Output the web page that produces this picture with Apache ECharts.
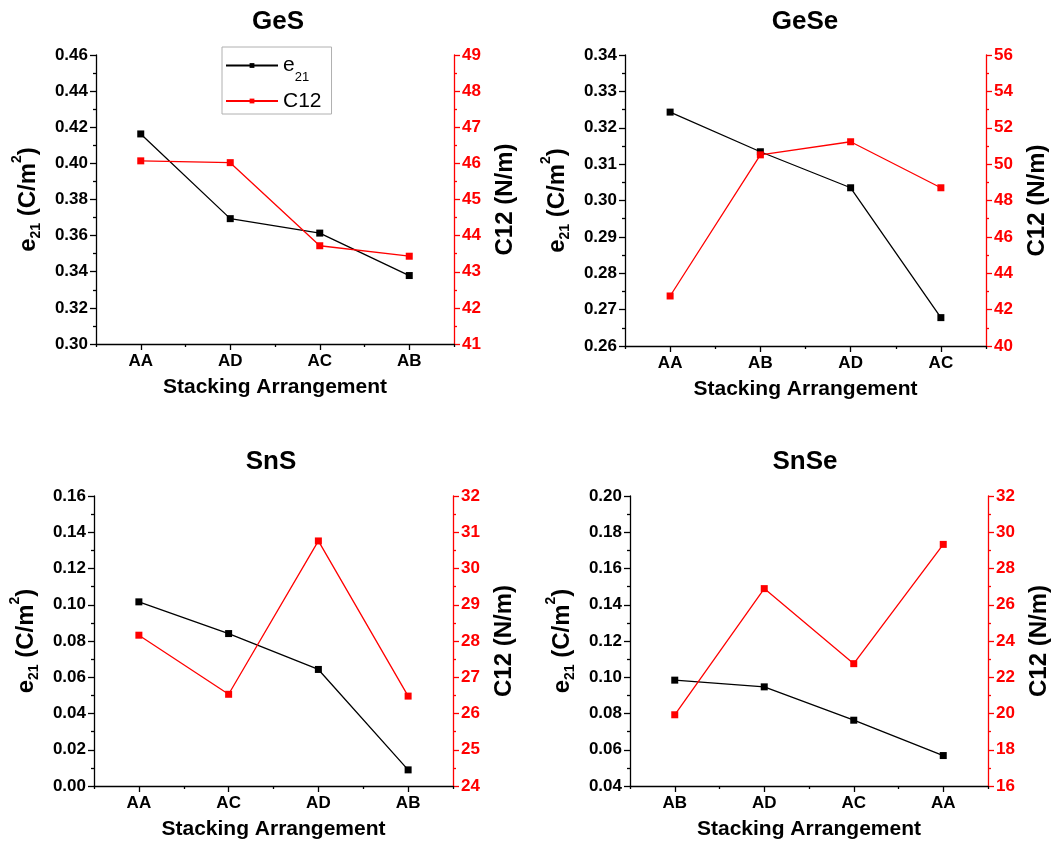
<!DOCTYPE html>
<html>
<head>
<meta charset="utf-8">
<title>e21 and C12 vs stacking arrangement</title>
<script src="https://cdn.jsdelivr.net/npm/echarts@6/dist/echarts.min.js"></script>
<style>
  html, body { margin: 0; padding: 0; background: #ffffff; }
  #chart { width: 1056px; height: 845px; }
</style>
</head>
<body>
<div id="chart"></div>
<script>
// ---- data ----
const panelTitles = ['GeS', 'GeSe', 'SnS', 'SnSe'];

const gesCats = ['AA', 'AD', 'AC', 'AB'];
const gesE21 = [0.4163, 0.3694, 0.3614, 0.3379];
const gesC12 = [46.07, 46.02, 43.72, 43.43];

const geseCats = ['AA', 'AB', 'AD', 'AC'];
const geseE21 = [0.3243, 0.3134, 0.3035, 0.2678];
const geseC12 = [42.75, 50.51, 51.23, 48.70];

const snsCats = ['AA', 'AC', 'AD', 'AB'];
const snsE21 = [0.1016, 0.0841, 0.0643, 0.0089];
const snsC12 = [28.16, 26.53, 30.76, 26.48];

const snseCats = ['AB', 'AD', 'AC', 'AA'];
const snseE21 = [0.0984, 0.0947, 0.0763, 0.0568];
const snseC12 = [19.93, 26.89, 22.75, 29.33];

// [min, max, interval] for the left (e21) and right (C12) axes
const e21Ranges = [[0.30, 0.46, 0.02], [0.26, 0.34, 0.01], [0.00, 0.16, 0.02], [0.04, 0.20, 0.02]];
const c12Ranges = [[41, 49, 1], [40, 56, 2], [24, 32, 1], [16, 32, 2]];

const xAxisTitle = 'Stacking Arrangement';
const e21AxisTitle = '{m|e}{s|21}{m| (C/m}{p|2}{m|)}';
const c12AxisTitle = 'C12 (N/m)';
const seriesNames = ['e21', 'C12'];

const categories = [gesCats, geseCats, snsCats, snseCats];
const e21Values = [gesE21, geseE21, snsE21, snseE21];
const c12Values = [gesC12, geseC12, snsC12, snseC12];

// ---- layout ----
const FONT = '"Liberation Sans", Arial, sans-serif';
const BLACK = '#000000';
const RED = '#ff0000';

const panels = [
  { left: 96,  top: 55,  width: 358, height: 289, tx: 278, ty: 22 },
  { left: 625, top: 55,  width: 361, height: 291, tx: 805, ty: 22 },
  { left: 94,  top: 496, width: 359, height: 290, tx: 271, ty: 462 },
  { left: 630, top: 496, width: 358, height: 290, tx: 805, ty: 462 }
];

const boldText = (size, color) => ({
  fontFamily: FONT, fontWeight: 'bold', fontSize: size, color: color
});

const option = {
  backgroundColor: '#ffffff',
  animation: false,
  title: [],
  grid: [],
  xAxis: [],
  yAxis: [],
  series: [],
  legend: {
    data: seriesNames,
    orient: 'vertical',
    left: 222,
    top: 47,
    padding: [0, 10, 0, 3],
    itemWidth: 52,
    itemHeight: 6,
    itemGap: 4,
    borderColor: '#b0b0b0',
    borderWidth: 1,
    borderRadius: 0,
    formatter: n => (n === 'e21' ? '{m|e}{s|21}' : '{m|' + n + '}'),
    textStyle: {
      fontFamily: FONT, fontSize: 21, color: BLACK, lineHeight: 26,
      rich: {
        m: { fontFamily: FONT, fontSize: 21, color: BLACK, lineHeight: 26 },
        s: { fontFamily: FONT, fontSize: 13, color: BLACK, lineHeight: 26, padding: [24, 0, 0, 0] }
      }
    }
  }
};

panels.forEach((p, i) => {
  option.title.push({
    text: panelTitles[i],
    left: p.tx,
    top: p.ty,
    padding: 0,
    textAlign: 'center',
    textVerticalAlign: 'middle',
    textStyle: boldText(26, BLACK)
  });

  option.grid.push({
    left: p.left, top: p.top, width: p.width, height: p.height,
    containLabel: false, outerBoundsMode: 'none'
  });

  const axisBlack = { color: BLACK, width: 1.3 };
  const axisRed = { color: RED, width: 1.3 };

  // category axis with labels and ticks on the categories
  option.xAxis.push({
    type: 'category',
    gridIndex: i,
    position: 'bottom',
    data: categories[i],
    boundaryGap: true,
    name: xAxisTitle,
    nameLocation: 'middle',
    nameGap: 33,
    nameMoveOverlap: false,
    nameTextStyle: boldText(21, BLACK),
    axisLine: { show: true, lineStyle: axisBlack },
    axisTick: { show: true, alignWithLabel: true, length: 6, lineStyle: axisBlack },
    axisLabel: Object.assign({ margin: 9, interval: 0 }, boldText(17, BLACK)),
    splitLine: { show: false }
  });
  // companion axis: short ticks on the category boundaries
  option.xAxis.push({
    type: 'category',
    gridIndex: i,
    position: 'bottom',
    data: categories[i],
    boundaryGap: true,
    axisLine: { show: false },
    axisTick: { show: true, alignWithLabel: false, interval: 0, length: 3, lineStyle: axisBlack },
    axisLabel: { show: false },
    splitLine: { show: false }
  });

  const er = e21Ranges[i];
  option.yAxis.push({
    type: 'value',
    gridIndex: i,
    position: 'left',
    min: er[0], max: er[1], interval: er[2],
    name: e21AxisTitle,
    nameLocation: 'middle',
    nameRotate: 90,
    nameGap: 53,
    nameMoveOverlap: false,
    nameTextStyle: Object.assign(boldText(24, BLACK), {
      lineHeight: 30,
      rich: {
        m: Object.assign(boldText(24, BLACK), { lineHeight: 30 }),
        s: Object.assign(boldText(14, BLACK), { lineHeight: 30, padding: [16, 0, 0, 0] }),
        p: Object.assign(boldText(14, BLACK), { lineHeight: 30, padding: [0, 0, 22, 0] })
      }
    }),
    axisLine: { show: true, lineStyle: axisBlack },
    axisTick: { show: true, length: 6, lineStyle: axisBlack },
    minorTick: { show: true, splitNumber: 2, length: 3, lineStyle: axisBlack },
    axisLabel: Object.assign({ margin: 8, formatter: v => v.toFixed(2) }, boldText(17, BLACK)),
    splitLine: { show: false },
    minorSplitLine: { show: false }
  });

  const cr = c12Ranges[i];
  option.yAxis.push({
    type: 'value',
    gridIndex: i,
    position: 'right',
    min: cr[0], max: cr[1], interval: cr[2],
    name: c12AxisTitle,
    nameLocation: 'middle',
    nameRotate: 90,
    nameGap: 36,
    nameMoveOverlap: false,
    nameTextStyle: Object.assign(boldText(24, BLACK), { lineHeight: 30 }),
    axisLine: { show: true, lineStyle: axisRed },
    axisTick: { show: true, length: 6, lineStyle: axisRed },
    minorTick: { show: true, splitNumber: 2, length: 3, lineStyle: axisRed },
    axisLabel: Object.assign({ margin: 8, formatter: v => String(Math.round(v)) }, boldText(17, RED)),
    splitLine: { show: false },
    minorSplitLine: { show: false }
  });

  option.series.push({
    name: seriesNames[0],
    type: 'line',
    xAxisIndex: 2 * i,
    yAxisIndex: 2 * i,
    data: e21Values[i],
    symbol: 'rect',
    symbolSize: 7,
    itemStyle: { color: BLACK },
    lineStyle: { color: BLACK, width: 1.3 },
    emphasis: { disabled: true }
  });
  option.series.push({
    name: seriesNames[1],
    type: 'line',
    xAxisIndex: 2 * i,
    yAxisIndex: 2 * i + 1,
    data: c12Values[i],
    symbol: 'rect',
    symbolSize: 7,
    itemStyle: { color: RED },
    lineStyle: { color: RED, width: 1.3 },
    emphasis: { disabled: true }
  });
});

const chart = echarts.init(document.getElementById('chart'), null, { renderer: 'canvas' });
chart.setOption(option);
</script>
</body>
</html>
